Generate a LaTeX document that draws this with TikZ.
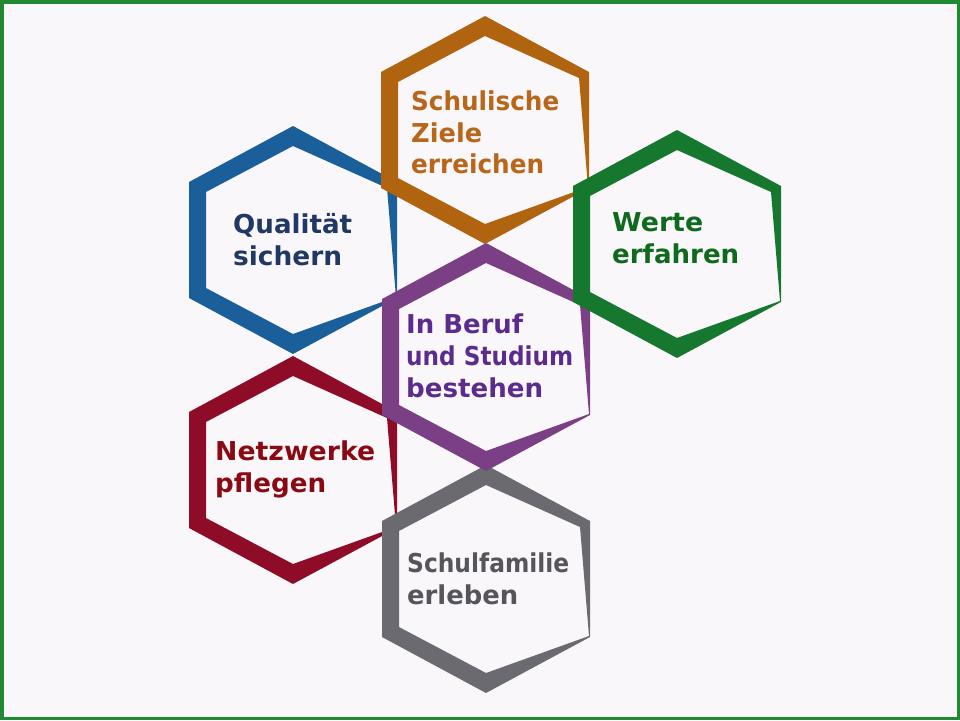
\documentclass[tikz,border=0pt]{standalone}
\usepackage{fontspec}
\setmainfont{DejaVu Sans}
\usepackage{graphicx}
\definecolor{bgc}{HTML}{FAF7FA}
\definecolor{framec}{HTML}{1F8A32}
\definecolor{hexO}{HTML}{B06410}
\definecolor{txtO}{HTML}{B8661A}
\definecolor{hexB}{HTML}{1A5E9A}
\definecolor{txtB}{HTML}{1F3864}
\definecolor{hexG}{HTML}{16782E}
\definecolor{txtG}{HTML}{0F6A1E}
\definecolor{hexP}{HTML}{7B3F86}
\definecolor{txtP}{HTML}{5B2C8C}
\definecolor{hexR}{HTML}{8E0C28}
\definecolor{txtR}{HTML}{8A0A14}
\definecolor{hexY}{HTML}{6B6A70}
\definecolor{txtY}{HTML}{56555C}
\newcommand{\hexring}[3]{%
  \fill[#3, even odd rule]
    (#1,#2-114) -- (#1+104,#2-58) -- (#1+104,#2+58) -- (#1,#2+114) -- (#1-104,#2+58) -- (#1-104,#2-58) -- cycle
    (#1,#2-94) -- (#1+94,#2-52) -- (#1+103,#2+57) -- (#1,#2+94) -- (#1-87,#2+48) -- (#1-87,#2-48) -- cycle;}
\newcommand{\fitw}[2]{\resizebox{#1pt}{\height}{#2}}
\begin{document}
\begin{tikzpicture}[x=1pt,y=-1pt,
  lbl/.style={anchor=base west, inner sep=0pt, font=\fontsize{26}{30}\selectfont\bfseries}]
\useasboundingbox (0,0) rectangle (960,720);
\fill[bgc] (0,0) rectangle (960,720);
\draw[framec, line width=3.5pt] (1.75,1.75) rectangle (958.25,718.25);
% hexagon centres
\coordinate (cR) at (293,470);
\coordinate (cB) at (293,240);
\coordinate (cY) at (486,579);
\coordinate (cP) at (486,357);
\coordinate (cO) at (485,130);
\coordinate (cG) at (677,244);
% rings (drawing order sets overlaps)
\hexring{293}{470}{hexR}
\hexring{293}{240}{hexB}
\hexring{486}{579}{hexY}
\hexring{486}{357}{hexP}
\hexring{485}{130}{hexO}
\hexring{677}{244}{hexG}
% texts
\node[lbl, text=txtO] (o1) at (411,110) {\fitw{148}{Schulische}};
\node[lbl, text=txtO] (o2) at (411,142) {\fitw{71}{Ziele}};
\node[lbl, text=txtO] (o3) at (411,173) {\fitw{133}{erreichen}};
\node[lbl, text=txtB] (b1) at (233,233) {\fitw{119}{Qualität}};
\node[lbl, text=txtB] (b2) at (233,265) {\fitw{109}{sichern}};
\node[lbl, text=txtG] (g1) at (612,231) {\fitw{91}{Werte}};
\node[lbl, text=txtG] (g2) at (612,263) {\fitw{127}{erfahren}};
\node[lbl, text=txtP] (p1) at (406,333) {\fitw{117}{In Beruf}};
\node[lbl, text=txtP] (p2) at (406,365) {\fitw{167}{und Studium}};
\node[lbl, text=txtP] (p3) at (406,397) {\fitw{137}{bestehen}};
\node[lbl, text=txtR] (r1) at (215,460) {\fitw{160}{Netzwerke}};
\node[lbl, text=txtR] (r2) at (215,492) {\fitw{111}{pflegen}};
\node[lbl, text=txtY] (y1) at (407,572) {\fitw{162}{Schulfamilie}};
\node[lbl, text=txtY] (y2) at (407,604) {\fitw{111}{erleben}};
\end{tikzpicture}
\end{document}
